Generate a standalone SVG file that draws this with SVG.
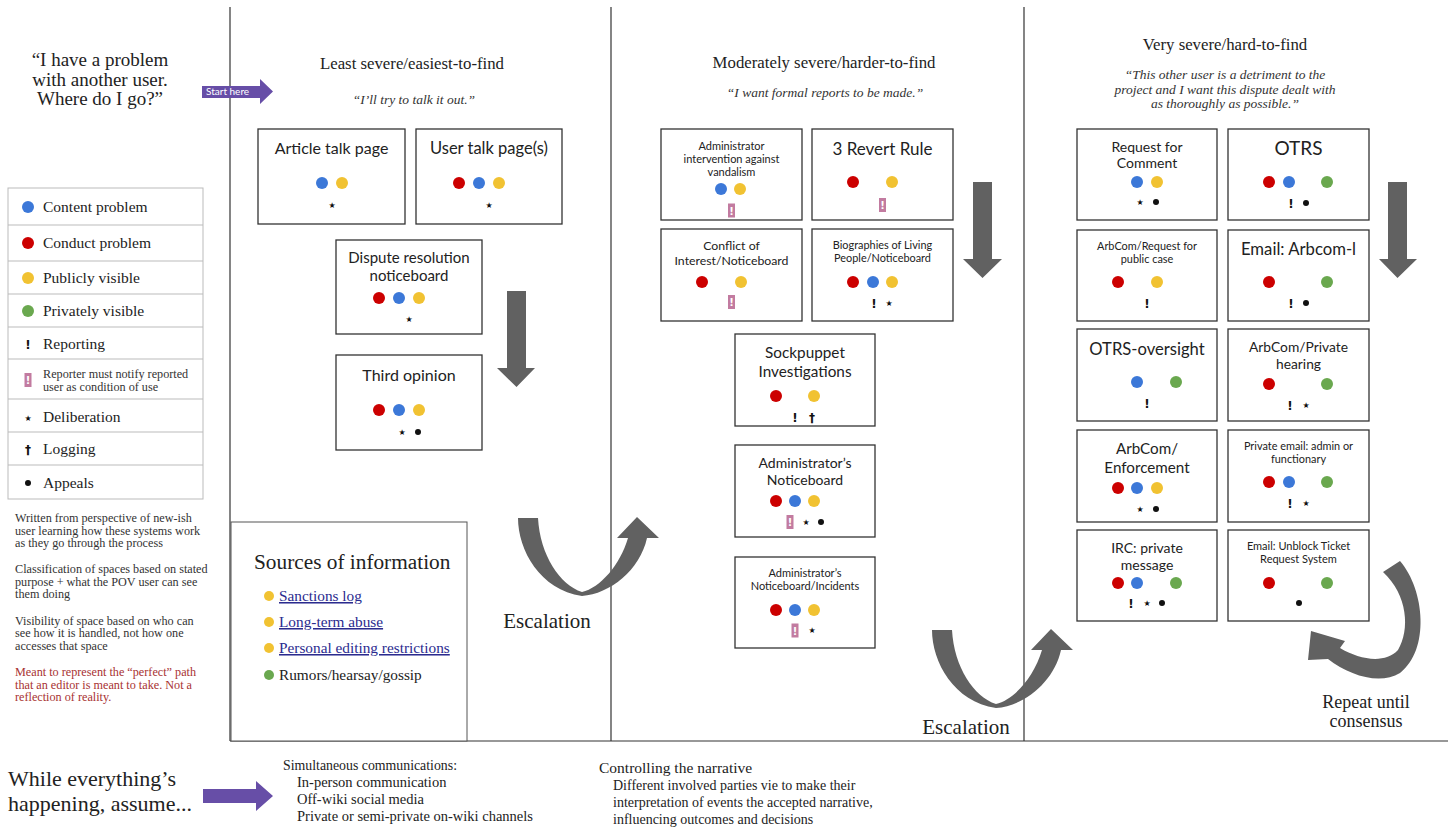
<svg xmlns="http://www.w3.org/2000/svg" width="1448" height="830" viewBox="0 0 1448 830">
<defs>
<style>
.bg{fill:#fff}
.frame{stroke:#333;stroke-width:1.2;fill:none}
.box{fill:#fff;stroke:#333;stroke-width:1.3}
.bt{font-family:Lato,"Open Sans",sans-serif;fill:#222;text-anchor:middle}
.serif{font-family:"Liberation Serif","DejaVu Serif",serif;fill:#222}
.hdr{font-family:"Liberation Serif",serif;font-size:16.8px;fill:#222;text-anchor:middle}
.quote{font-family:"Liberation Serif",serif;font-size:13.5px;font-style:italic;fill:#333;text-anchor:middle}
.r{fill:#cc0000}.b{fill:#3c78d8}.y{fill:#f1c232}.g{fill:#6aa84f}
.sym{font-family:"DejaVu Sans",sans-serif;fill:#111;text-anchor:middle}
.ex{font-family:"DejaVu Sans",sans-serif;font-weight:bold;font-size:12px;fill:#111;text-anchor:middle}
.st{font-family:"DejaVu Sans",sans-serif;font-size:8px;fill:#111;text-anchor:middle}
.pk{fill:#c27ba0}
.pkt{font-family:"DejaVu Sans",sans-serif;font-weight:bold;font-size:10px;fill:#fff;text-anchor:middle}
.lg{font-family:"Liberation Serif",serif;font-size:15.5px;fill:#222}
.note{font-family:"Liberation Serif",serif;font-size:12.2px;fill:#333}
.red{fill:#a83232}
.link{font-family:"Liberation Serif",serif;font-size:15.3px;fill:#2b2b8f;text-decoration:underline}
.arr{fill:#616161}
.purple{fill:#674ea7}
</style>
<symbol id="pkm" overflow="visible"><rect class="pk" x="-3.5" y="-7" width="7" height="14"/><text class="pkt" x="0" y="4">!</text></symbol>
</defs>
<rect class="bg" x="0" y="0" width="1448" height="830"/>

<g id="frame">
<line class="frame" x1="230" y1="7" x2="230" y2="741"/>
<line class="frame" x1="611" y1="7" x2="611" y2="741"/>
<line class="frame" x1="1024" y1="7" x2="1024" y2="741"/>
<line class="frame" x1="230" y1="741" x2="1448" y2="741"/>
</g>

<g id="question">
<text class="serif" font-size="19" text-anchor="middle"><tspan x="100" y="66">“I have a problem</tspan><tspan x="100" y="86">with another user.</tspan><tspan x="100" y="105">Where do I go?”</tspan></text>
</g>

<g id="headers">
<text class="hdr" x="412" y="69">Least severe/easiest-to-find</text>
<text class="quote" x="414" y="104">“I’ll try to talk it out.”</text>
<text class="hdr" x="824" y="68">Moderately severe/harder-to-find</text>
<text class="quote" x="825" y="97">“I want formal reports to be made.”</text>
<text class="hdr" x="1225" y="50">Very severe/hard-to-find</text>
<text class="quote"><tspan x="1225" y="79">“This other user is a detriment to the</tspan><tspan x="1225" y="94">project and I want this dispute dealt with</tspan><tspan x="1225" y="108">as thoroughly as possible.”</tspan></text>
</g>

<g id="legend">
<rect x="8" y="188" width="195" height="311" fill="#fff" stroke="#bbb" stroke-width="1"/>
<g stroke="#bbb" stroke-width="1">
<line x1="8" y1="225" x2="203" y2="225"/><line x1="8" y1="261" x2="203" y2="261"/>
<line x1="8" y1="294" x2="203" y2="294"/><line x1="8" y1="327" x2="203" y2="327"/>
<line x1="8" y1="359" x2="203" y2="359"/><line x1="8" y1="399" x2="203" y2="399"/>
<line x1="8" y1="432" x2="203" y2="432"/><line x1="8" y1="465" x2="203" y2="465"/>
</g>
<circle class="b" cx="28" cy="207" r="6"/><text class="lg" x="43" y="212">Content problem</text>
<circle class="r" cx="28" cy="243" r="6"/><text class="lg" x="43" y="248">Conduct problem</text>
<circle class="y" cx="28" cy="278" r="6"/><text class="lg" x="43" y="283">Publicly visible</text>
<circle class="g" cx="28" cy="311" r="6"/><text class="lg" x="43" y="316">Privately visible</text>
<text class="ex" x="28" y="349">!</text><text class="lg" x="43" y="349">Reporting</text>
<use href="#pkm" x="28" y="380"/>
<text class="note" font-size="12.8"><tspan x="43" y="378">Reporter must notify reported</tspan><tspan x="43" y="391">user as condition of use</tspan></text>
<text class="st" x="28" y="421">★</text><text class="lg" x="43" y="422">Deliberation</text>
<text class="sym" font-size="12" font-weight="bold" x="28" y="454">†</text><text class="lg" x="43" y="454">Logging</text>
<circle fill="#111" cx="28" cy="483" r="3"/><text class="lg" x="43" y="488">Appeals</text>
</g>

<g id="notes">
<text class="note"><tspan x="15" y="522">Written from perspective of new-ish</tspan><tspan x="15" y="535">user learning how these systems work</tspan><tspan x="15" y="547">as they go through the process</tspan></text>
<text class="note"><tspan x="15" y="573">Classification of spaces based on stated</tspan><tspan x="15" y="586">purpose + what the POV user can see</tspan><tspan x="15" y="598">them doing</tspan></text>
<text class="note"><tspan x="15" y="625">Visibility of space based on who can</tspan><tspan x="15" y="637">see how it is handled, not how one</tspan><tspan x="15" y="650">accesses that space</tspan></text>
<text class="note red"><tspan x="15" y="676">Meant to represent the “perfect” path</tspan><tspan x="15" y="689">that an editor is meant to take. Not a</tspan><tspan x="15" y="701">reflection of reality.</tspan></text>
</g>

<!-- Column 1 -->
<g id="article-talk">
<rect class="box" x="258" y="129" width="147" height="95"/>
<text class="bt" font-size="16" x="331.5" y="154">Article talk page</text>
<circle class="b" cx="322" cy="183" r="6"/><circle class="y" cx="342" cy="183" r="6"/>
<text class="st" x="332" y="208">★</text>
</g>
<g id="user-talk">
<rect class="box" x="416" y="129" width="146" height="95"/>
<text class="bt" font-size="16.5" x="489" y="154">User talk page(s)</text>
<circle class="r" cx="459" cy="183" r="6"/><circle class="b" cx="479" cy="183" r="6"/><circle class="y" cx="499" cy="183" r="6"/>
<text class="st" x="489" y="208">★</text>
</g>
<g id="dispute-resolution">
<rect class="box" x="336" y="240" width="146" height="94"/>
<text class="bt" font-size="15"><tspan x="409" y="263">Dispute resolution</tspan><tspan x="409" y="281">noticeboard</tspan></text>
<circle class="r" cx="379" cy="298" r="6"/><circle class="b" cx="399" cy="298" r="6"/><circle class="y" cx="419" cy="298" r="6"/>
<text class="st" x="409" y="322">★</text>
</g>
<g id="third-opinion">
<rect class="box" x="336" y="355" width="146" height="95"/>
<text class="bt" font-size="16" x="409" y="381">Third opinion</text>
<circle class="r" cx="379" cy="410" r="6"/><circle class="b" cx="399" cy="410" r="6"/><circle class="y" cx="419" cy="410" r="6"/>
<text class="st" x="402" y="435">★</text><circle fill="#111" cx="418" cy="432" r="3"/>
</g>
<g id="sources">
<rect x="231" y="522" width="236" height="219" fill="#fff" stroke="#555" stroke-width="1"/>
<text class="serif" font-size="21.3" x="254" y="569">Sources of information</text>
<circle class="y" cx="269" cy="596" r="5"/><text class="link" x="279" y="601">Sanctions log</text>
<circle class="y" cx="269" cy="622" r="5"/><text class="link" x="279" y="627">Long-term abuse</text>
<circle class="y" cx="269" cy="648" r="5"/><text class="link" x="279" y="653">Personal editing restrictions</text>
<circle class="g" cx="269" cy="675" r="5"/><text class="serif" font-size="15.3" x="279" y="680">Rumors/hearsay/gossip</text>
</g>

<!-- Column 2 -->
<g id="aiv">
<rect class="box" x="661" y="129" width="141" height="91"/>
<text class="bt" font-size="11"><tspan x="731.5" y="150">Administrator</tspan><tspan x="731.5" y="163">intervention against</tspan><tspan x="731.5" y="176">vandalism</tspan></text>
<circle class="b" cx="721" cy="189" r="6"/><circle class="y" cx="740" cy="189" r="6"/>
<use href="#pkm" x="731.5" y="210.5"/>
</g>
<g id="three-revert">
<rect class="box" x="812" y="129" width="141" height="91"/>
<text class="bt" font-size="17" x="882.5" y="155">3 Revert Rule</text>
<circle class="r" cx="853" cy="182" r="6"/><circle class="y" cx="892" cy="182" r="6"/>
<use href="#pkm" x="882.5" y="205"/>
</g>
<g id="coin">
<rect class="box" x="661" y="229" width="141" height="92"/>
<text class="bt" font-size="12.3"><tspan x="731.5" y="250">Conflict of</tspan><tspan x="731.5" y="265">Interest/Noticeboard</tspan></text>
<circle class="r" cx="702" cy="282" r="6"/><circle class="y" cx="741" cy="282" r="6"/>
<use href="#pkm" x="731.5" y="302"/>
</g>
<g id="blpn">
<rect class="box" x="812" y="229" width="141" height="92"/>
<text class="bt" font-size="10.9"><tspan x="882.5" y="249">Biographies of Living</tspan><tspan x="882.5" y="262">People/Noticeboard</tspan></text>
<circle class="r" cx="853" cy="282" r="6"/><circle class="b" cx="873" cy="282" r="6"/><circle class="y" cx="892" cy="282" r="6"/>
<text class="ex" x="874" y="308">!</text><text class="st" x="889" y="306">★</text>
</g>
<g id="spi">
<rect class="box" x="735" y="334" width="140" height="92"/>
<text class="bt" font-size="15.3"><tspan x="805" y="358">Sockpuppet</tspan><tspan x="805" y="377">Investigations</tspan></text>
<circle class="r" cx="776" cy="396" r="6"/><circle class="y" cx="814" cy="396" r="6"/>
<text class="ex" x="795" y="422">!</text><text class="sym" font-size="12" font-weight="bold" x="812" y="422">†</text>
</g>
<g id="an">
<rect class="box" x="735" y="445" width="140" height="92"/>
<text class="bt" font-size="14"><tspan x="805" y="468">Administrator’s</tspan><tspan x="805" y="485">Noticeboard</tspan></text>
<circle class="r" cx="776" cy="501" r="6"/><circle class="b" cx="795" cy="501" r="6"/><circle class="y" cx="814" cy="501" r="6"/>
<use href="#pkm" x="790" y="522"/><text class="st" x="806" y="525">★</text><circle fill="#111" cx="821" cy="522" r="3"/>
</g>
<g id="ani">
<rect class="box" x="735" y="557" width="140" height="91"/>
<text class="bt" font-size="11"><tspan x="805" y="577">Administrator’s</tspan><tspan x="805" y="590">Noticeboard/Incidents</tspan></text>
<circle class="r" cx="776" cy="610" r="6"/><circle class="b" cx="795" cy="610" r="6"/><circle class="y" cx="814" cy="610" r="6"/>
<use href="#pkm" x="795" y="630.5"/><text class="st" x="812" y="633">★</text>
</g>

<!-- Column 3 -->
<g id="rfc">
<rect class="box" x="1077" y="129" width="140" height="91"/>
<text class="bt" font-size="14"><tspan x="1147" y="152">Request for</tspan><tspan x="1147" y="168">Comment</tspan></text>
<circle class="b" cx="1137" cy="182" r="6"/><circle class="y" cx="1157" cy="182" r="6"/>
<text class="st" x="1140" y="205">★</text><circle fill="#111" cx="1156" cy="202" r="3"/>
</g>
<g id="otrs">
<rect class="box" x="1228" y="129" width="141" height="91"/>
<text class="bt" font-size="19" x="1298.5" y="155">OTRS</text>
<circle class="r" cx="1269" cy="182" r="6"/><circle class="b" cx="1289" cy="182" r="6"/><circle class="g" cx="1327" cy="182" r="6"/>
<text class="ex" x="1291" y="208">!</text><circle fill="#111" cx="1306" cy="203" r="3"/>
</g>
<g id="arbcom-public">
<rect class="box" x="1077" y="230" width="140" height="91"/>
<text class="bt" font-size="10.9"><tspan x="1147" y="250">ArbCom/Request for</tspan><tspan x="1147" y="263">public case</tspan></text>
<circle class="r" cx="1118" cy="282" r="6"/><circle class="y" cx="1157" cy="282" r="6"/>
<text class="ex" x="1147" y="308">!</text>
</g>
<g id="arbcom-l">
<rect class="box" x="1228" y="230" width="141" height="91"/>
<text class="bt" font-size="16.7" x="1298.5" y="255">Email: Arbcom-l</text>
<circle class="r" cx="1269" cy="282" r="6"/><circle class="g" cx="1327" cy="282" r="6"/>
<text class="ex" x="1291" y="308">!</text><circle fill="#111" cx="1306" cy="303" r="3"/>
</g>
<g id="otrs-oversight">
<rect class="box" x="1077" y="329" width="140" height="92"/>
<text class="bt" font-size="16.6" x="1147" y="355">OTRS-oversight</text>
<circle class="b" cx="1137" cy="382" r="6"/><circle class="g" cx="1176" cy="382" r="6"/>
<text class="ex" x="1147" y="408">!</text>
</g>
<g id="arbcom-private">
<rect class="box" x="1228" y="329" width="141" height="92"/>
<text class="bt" font-size="13.8"><tspan x="1298.5" y="352">ArbCom/Private</tspan><tspan x="1298.5" y="369">hearing</tspan></text>
<circle class="r" cx="1269" cy="384" r="6"/><circle class="g" cx="1327" cy="384" r="6"/>
<text class="ex" x="1290" y="410">!</text><text class="st" x="1306" y="408">★</text>
</g>
<g id="arbcom-enforcement">
<rect class="box" x="1077" y="430" width="140" height="92"/>
<text class="bt" font-size="15.2"><tspan x="1147" y="454">ArbCom/</tspan><tspan x="1147" y="473">Enforcement</tspan></text>
<circle class="r" cx="1118" cy="488" r="6"/><circle class="b" cx="1137" cy="488" r="6"/><circle class="y" cx="1157" cy="488" r="6"/>
<text class="st" x="1140" y="512">★</text><circle fill="#111" cx="1156" cy="509" r="3"/>
</g>
<g id="private-email">
<rect class="box" x="1228" y="430" width="141" height="92"/>
<text class="bt" font-size="10.9"><tspan x="1298.5" y="450">Private email: admin or</tspan><tspan x="1298.5" y="463">functionary</tspan></text>
<circle class="r" cx="1269" cy="482" r="6"/><circle class="b" cx="1289" cy="482" r="6"/><circle class="g" cx="1327" cy="482" r="6"/>
<text class="ex" x="1290" y="508">!</text><text class="st" x="1306" y="506">★</text>
</g>
<g id="irc">
<rect class="box" x="1077" y="530" width="140" height="91"/>
<text class="bt" font-size="14"><tspan x="1147" y="553">IRC: private</tspan><tspan x="1147" y="570">message</tspan></text>
<circle class="r" cx="1118" cy="583" r="6"/><circle class="b" cx="1137" cy="583" r="6"/><circle class="g" cx="1176" cy="583" r="6"/>
<text class="ex" x="1131" y="608">!</text><text class="st" x="1147" y="606">★</text><circle fill="#111" cx="1162" cy="603" r="3"/>
</g>
<g id="utrs">
<rect class="box" x="1228" y="530" width="141" height="91"/>
<text class="bt" font-size="11"><tspan x="1298.5" y="550">Email: Unblock Ticket</tspan><tspan x="1298.5" y="563">Request System</tspan></text>
<circle class="r" cx="1269" cy="583" r="6"/><circle class="g" cx="1327" cy="583" r="6"/>
<circle fill="#111" cx="1299" cy="603" r="3"/>
</g>

<g id="connectors">
<polygon class="purple" points="202,86 260,86 260,79 273,91.5 260,104 260,98 202,98"/>
<text font-family="Lato,sans-serif" font-size="10" fill="#fff" x="206" y="95">Start here</text>
<polygon class="arr" points="507,291 526,291 526,368 535,368 516.5,387 497,368 507,368"/>
<polygon class="arr" points="973,182 992,182 992,259 1002,259 982.5,278 963,259 973,259"/>
<polygon class="arr" points="1388,182 1407,182 1407,259 1417,259 1397.5,278 1379,259 1388,259"/>
<path id="esc" class="arr" d="M 518 518 L 538 518 C 540 555, 560 585, 582 592 C 600 588, 620 565, 628 538 L 617 538 L 637 517 L 659 538 L 647 538 C 640 570, 610 594, 582 596 C 540 590, 518 550, 518 518 Z"/>
<use href="#esc" x="414" y="112"/>
<path class="arr" d="M 1383 572 L 1400 561 C 1425 590, 1430 650, 1400 673 C 1380 685, 1350 676, 1328 659 L 1308 660 L 1311 631 L 1345 641 L 1340 648 C 1360 660, 1385 664, 1398 650 C 1410 630, 1408 595, 1383 572 Z"/>
<polygon class="purple" points="203,789 256,789 256,781 273,796 256,811 256,803 203,803"/>
</g>

<g id="labels">
<text class="serif" font-size="21" x="547" y="628" text-anchor="middle">Escalation</text>
<text class="serif" font-size="21" x="966" y="734" text-anchor="middle">Escalation</text>
<text class="serif" font-size="18" text-anchor="middle"><tspan x="1366" y="708">Repeat until</tspan><tspan x="1366" y="727">consensus</tspan></text>
</g>

<g id="footer">
<text class="serif" font-size="22"><tspan x="8" y="786">While everything’s</tspan><tspan x="8" y="811">happening, assume...</tspan></text>
<text class="serif" font-size="15.5" x="283" y="770" textLength="174" lengthAdjust="spacingAndGlyphs">Simultaneous communications:</text>
<text class="serif" font-size="14.5"><tspan x="297" y="787">In-person communication</tspan><tspan x="297" y="804">Off-wiki social media</tspan><tspan x="297" y="821">Private or semi-private on-wiki channels</tspan></text>
<text class="serif" font-size="15.5" x="599" y="773">Controlling the narrative</text>
<text class="serif" font-size="14"><tspan x="613" y="790">Different involved parties vie to make their</tspan><tspan x="613" y="807">interpretation of events the accepted narrative,</tspan><tspan x="613" y="824">influencing outcomes and decisions</tspan></text>
</g>
</svg>
